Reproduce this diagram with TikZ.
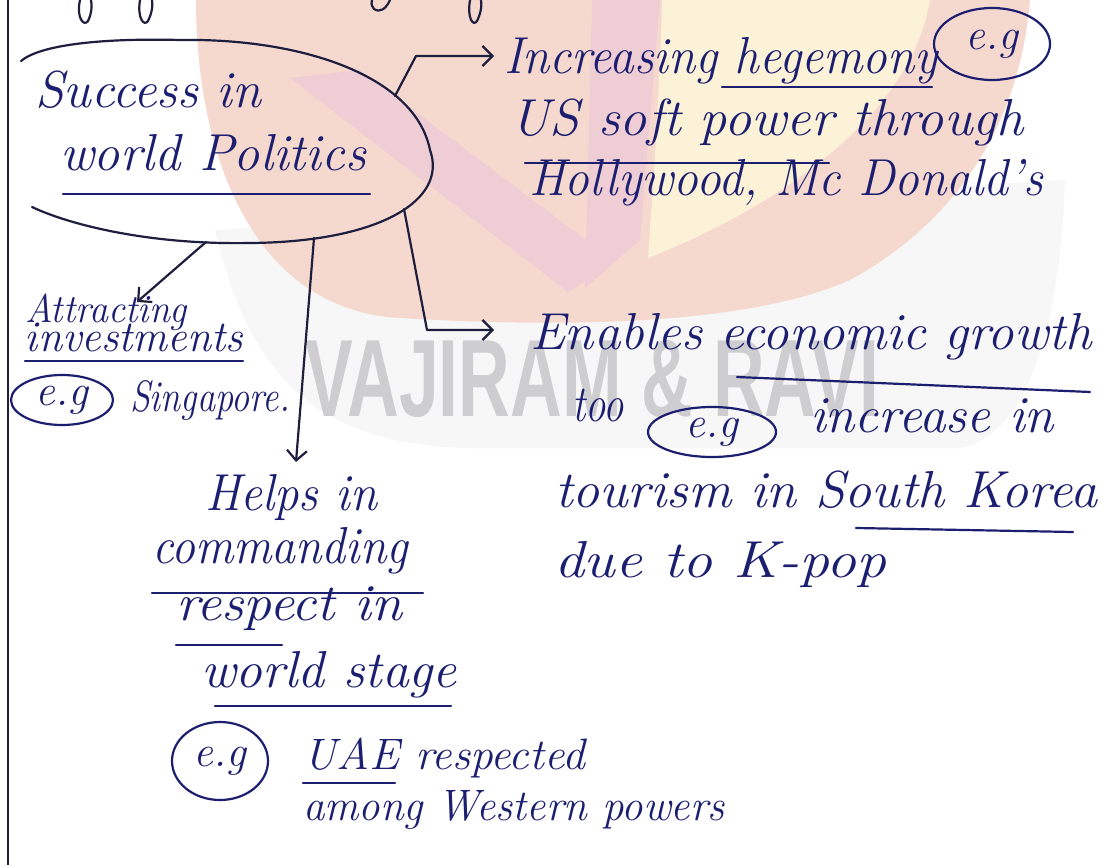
\documentclass[tikz,border=0pt]{standalone}
\usepackage{fontspec}
\usetikzlibrary{arrows.meta,shapes.geometric}
\newfontfamily\wmfont{Liberation Sans}
\definecolor{ink}{RGB}{28,30,112}
\definecolor{inkdark}{RGB}{30,30,62}
\definecolor{wpink}{RGB}{246,217,206}
\definecolor{wmauve}{RGB}{238,205,212}
\definecolor{wyellow}{RGB}{251,242,215}
\definecolor{wband}{RGB}{247,247,247}
\definecolor{wtext}{RGB}{206,206,209}
% set a handwritten line to a given width, keeping its height
\newcommand{\hw}[2]{\resizebox{#1}{\height}{#2}}
\newcommand{\fs}[1]{\fontsize{#1}{#1}\selectfont}

\begin{document}
\begin{tikzpicture}[x=0.5pt,y=-0.5pt,
  every node/.style={inner sep=0pt,outer sep=0pt},
  hand/.style={anchor=base west,text=ink,font=\fs{26}\itshape},
  small/.style={hand,font=\fs{22}\itshape},
  pen/.style={draw=inkdark,line width=1.1pt,line cap=round,line join=round},
  uline/.style={draw=ink,line width=1.1pt,line cap=round},
  arr/.style={pen,-{Straight Barb[length=5pt,width=10pt]}},
  egc/.style={draw=ink,line width=1.1pt,ellipse,text=ink,font=\fs{22}\itshape}]

\useasboundingbox (0,0) rectangle (1106,865);
\fill[white] (0,0) rectangle (1106,865);

% faint logo in the background
\fill[wband] (215,230) .. controls (250,380) and (320,445) .. (470,448)
  -- (960,448) .. controls (1030,435) and (1060,320) .. (1065,180) -- cycle;
\fill[wpink] (196,0) .. controls (196,150) and (250,310) .. (400,318)
  .. controls (600,330) and (760,320) .. (850,280)
  .. controls (960,220) and (1020,120) .. (1030,0) -- cycle;
\fill[wmauve] (290,78) -- (360,70) -- (615,262) -- (568,292) -- cycle;
\fill[wmauve] (592,0) -- (660,0) -- (640,240) -- (585,288) -- cycle;
\fill[wyellow] (662,0) -- (930,0) .. controls (910,120) and (770,210) .. (648,258)
  .. controls (655,160) and (660,80) .. (662,0) -- cycle;
\node[anchor=south west,text=wtext] (wm) at (305,418)
  {\resizebox{287pt}{38pt}{\wmfont\bfseries VAJIRAM \& RAVI}};

% page margin
\draw[inkdark,line width=1.2pt] (8,0) -- (8,865);

% descenders of the line above
\draw[pen] (80,0) .. controls (76,18) and (84,27) .. (88,21) .. controls (92,13) and (92,5) .. (91,0);
\draw[pen] (140,0) .. controls (137,18) and (144,27) .. (148,21) .. controls (152,13) and (153,5) .. (152,0);
\draw[pen] (390,0) .. controls (386,9) and (380,13) .. (374,9) .. controls (371,5) and (371,2) .. (372,0);
\draw[pen] (470,0) .. controls (467,18) and (473,27) .. (477,21) .. controls (481,13) and (482,5) .. (481,0);

% central idea
\draw[pen] (21,61) .. controls (40,45) and (100,38) .. (180,40)
  .. controls (300,38) and (415,75) .. (430,150)
  .. controls (448,200) and (380,242) .. (250,243)
  .. controls (150,245) and (70,225) .. (32,207);
\node[hand] (success) at (35,108) {\hw{113pt}{Success in}};
\node[hand] (world) at (60,171) {\hw{153pt}{world Politics}};
\draw[uline] (63,194) -- (370,194);

\coordinate (e1) at (395,96);
\coordinate (e2) at (404,209);
\coordinate (e3) at (314,238);
\coordinate (e4) at (206,242);

% branch: hegemony
\coordinate (k1) at (416,56);
\coordinate (tip1) at (494,56);
\draw[arr] (e1) -- (k1) -- (tip1);
\node[hand] (inc) at (504,74) {\hw{217pt}{Increasing hegemony}};
\draw[uline] (722,87) -- (932,87);
\node[egc,minimum width=58pt,minimum height=36pt] (eg1) at (992,44) {e.g};
\node[hand] (us) at (510,136) {\hw{257pt}{US soft power through}};
\draw[uline] (525,163) -- (829,163);
\node[hand] (holly) at (529,196) {\hw{257pt}{Hollywood, Mc Donald's}};

% branch: economic growth
\coordinate (k2) at (427,330);
\coordinate (tip2) at (494,330);
\draw[arr] (e2) -- (k2) -- (tip2);
\node[hand] (enab) at (530,350) {\hw{281pt}{Enables economic growth}};
\draw[uline] (737,377) -- (1090,392);
\node[hand] (too) at (572,422) {\hw{26pt}{too}};
\node[egc,minimum width=64pt,minimum height=25pt] (eg2) at (712,432) {e.g};
\node[hand] (incr) at (810,432) {\hw{122pt}{increase in}};
\node[hand] (tour) at (555,507) {\hw{271pt}{tourism in South Korea}};
\draw[uline] (856,528) -- (1073,532);
\node[hand] (due) at (554,577) {\hw{166pt}{due to K-pop}};

% branch: investments
\coordinate (tip4) at (137,302);
\draw[arr] (e4) -- (tip4);
\node[small,font=\fs{20}\itshape] (attr) at (25,322) {\hw{81pt}{Attracting}};
\node[small] (inv) at (25,352) {\hw{109pt}{investments}};
\draw[uline] (25,361) -- (243,361);
\node[egc,minimum width=51pt,minimum height=25pt] (eg3) at (62,400) {e.g};
\node[small] (sing) at (130,411) {\hw{80pt}{Singapore.}};

% branch: respect
\coordinate (tip3) at (296,462);
\draw[arr] (e3) -- (tip3);
\node[hand] (helps) at (205,510) {\hw{86pt}{Helps in}};
\node[hand] (comm) at (152,563) {\hw{128pt}{commanding}};
\draw[uline] (152,593) -- (423,593);
\node[hand] (resp) at (176,620) {\hw{113pt}{respect in}};
\draw[uline] (176,645) -- (282,645);
\node[hand] (ws) at (201,687) {\hw{128pt}{world stage}};
\draw[uline] (215,706) -- (451,706);
\node[egc,minimum width=48pt,minimum height=39pt] (eg4) at (220,761) {e.g};
\node[small] (uae) at (303,769) {\hw{141pt}{UAE respected}};
\draw[uline] (303,783) -- (395,783);
\node[small] (among) at (303,820) {\hw{211pt}{among Western powers}};
\end{tikzpicture}
\end{document}
